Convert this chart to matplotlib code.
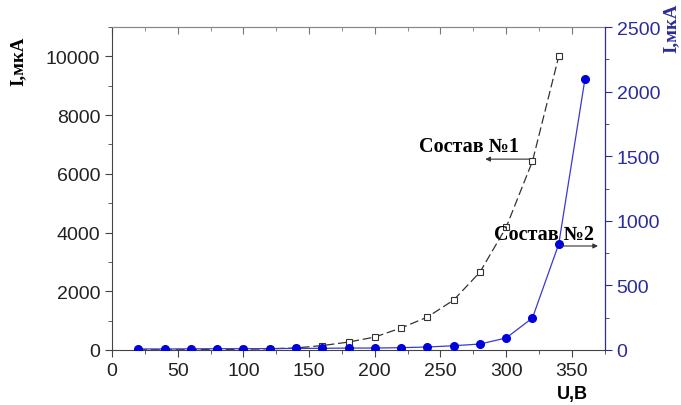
import matplotlib
matplotlib.use("Agg")
from matplotlib import pyplot as plt
from matplotlib.ticker import MultipleLocator

# data
u1 = [20, 40, 60, 80, 100, 120, 140, 160, 180, 200, 220, 240, 260, 280, 300, 320, 340]
i1 = [5, 8, 10, 15, 25, 40, 70, 150, 270, 440, 750, 1120, 1700, 2650, 4180, 6430, 10000]

u2 = [20, 40, 60, 80, 100, 120, 140, 160, 180, 200, 220, 240, 260, 280, 300, 320, 340, 360]
i2 = [8, 8, 9, 10, 10, 11, 12, 13, 15, 15, 18, 23, 33, 46, 93, 248, 820, 2100]

xticks = [0, 50, 100, 150, 200, 250, 300, 350]
yticks_left = [0, 2000, 4000, 6000, 8000, 10000]
yticks_right = [0, 500, 1000, 1500, 2000, 2500]

blue = "#0000dd"
navy = "#2b2b9c"
sans = "Liberation Sans"
serif = "Liberation Serif"

fig = plt.figure(figsize=(6.81, 4.06), dpi=100)
ax = fig.add_axes([0.1645, 0.1355, 0.7235, 0.7955])
ax2 = ax.twinx()

ax.plot(u1, i1, color="#333333", lw=0.9, ls=(0, (7, 3)), marker="s",
        markersize=5, markerfacecolor="white", markeredgecolor="#333333",
        markeredgewidth=0.8, zorder=3)
ax2.plot(u2, i2, color="#3a3ad0", lw=0.9, marker="o", markersize=5.5,
         markerfacecolor=blue, markeredgecolor=blue, zorder=3)

ax.set_xlim(0, 375)
ax.set_ylim(0, 11000)
ax2.set_ylim(0, 2500)

ax.set_xticks(xticks)
ax.set_yticks(yticks_left)
ax2.set_yticks(yticks_right)
ax.xaxis.set_minor_locator(MultipleLocator(25))
ax.yaxis.set_minor_locator(MultipleLocator(1000))
ax2.yaxis.set_minor_locator(MultipleLocator(250))

ax.tick_params(axis="both", which="major", direction="out", length=5,
               labelsize=14, color="#444444", labelcolor="#222222")
ax.tick_params(axis="both", which="minor", direction="out", length=3,
               color="#444444")
for lab in ax.get_xticklabels() + ax.get_yticklabels():
    lab.set_fontfamily(sans)
ax2.tick_params(axis="y", which="major", direction="out", length=5,
                labelsize=14, color=navy, labelcolor=navy)
ax2.tick_params(axis="y", which="minor", direction="out", length=3, color=navy)
for lab in ax2.get_yticklabels():
    lab.set_fontfamily(sans)

# top axis: ticks inward, no labels
top = ax.secondary_xaxis("top")
top.set_xticks(xticks)
top.xaxis.set_minor_locator(MultipleLocator(25))
top.tick_params(which="major", direction="in", length=5, labeltop=False, color="#777777")
top.tick_params(which="minor", direction="in", length=3, color="#777777")
top.spines["top"].set_color("#888888")

for s in ["left", "bottom"]:
    ax.spines[s].set_color("#444444")
ax.spines["top"].set_color("#888888")
ax2.spines["right"].set_color(navy)
ax2.spines["left"].set_visible(False)
ax2.spines["top"].set_visible(False)
ax2.spines["bottom"].set_visible(False)

fig.text(0.027, 0.85, "I,мкА", rotation=90, ha="center", va="center",
         fontsize=13.5, fontweight="bold", family=serif)
fig.text(0.986, 0.93, "I,мкА", rotation=90, ha="center", va="center",
         fontsize=13.5, fontweight="bold", family=serif, color=navy)
fig.text(0.84, 0.028, "U,B", ha="center", va="center", fontsize=13,
         fontweight="bold", family=sans)

ax.text(234, 6770, "Состав №1", fontsize=14.5, fontweight="bold", family=serif)
ax.annotate("", xy=(282, 6500), xytext=(320, 6500),
            arrowprops=dict(arrowstyle="-|>", color="#333333", lw=0.8,
                            mutation_scale=7))
ax2.text(291, 859, "Состав №2", fontsize=14.5, fontweight="bold", family=serif)
ax2.annotate("", xy=(372, 805), xytext=(340, 805),
             arrowprops=dict(arrowstyle="-|>", color="#333333", lw=0.8,
                             mutation_scale=7))

fig.savefig("out.png", dpi=100)
